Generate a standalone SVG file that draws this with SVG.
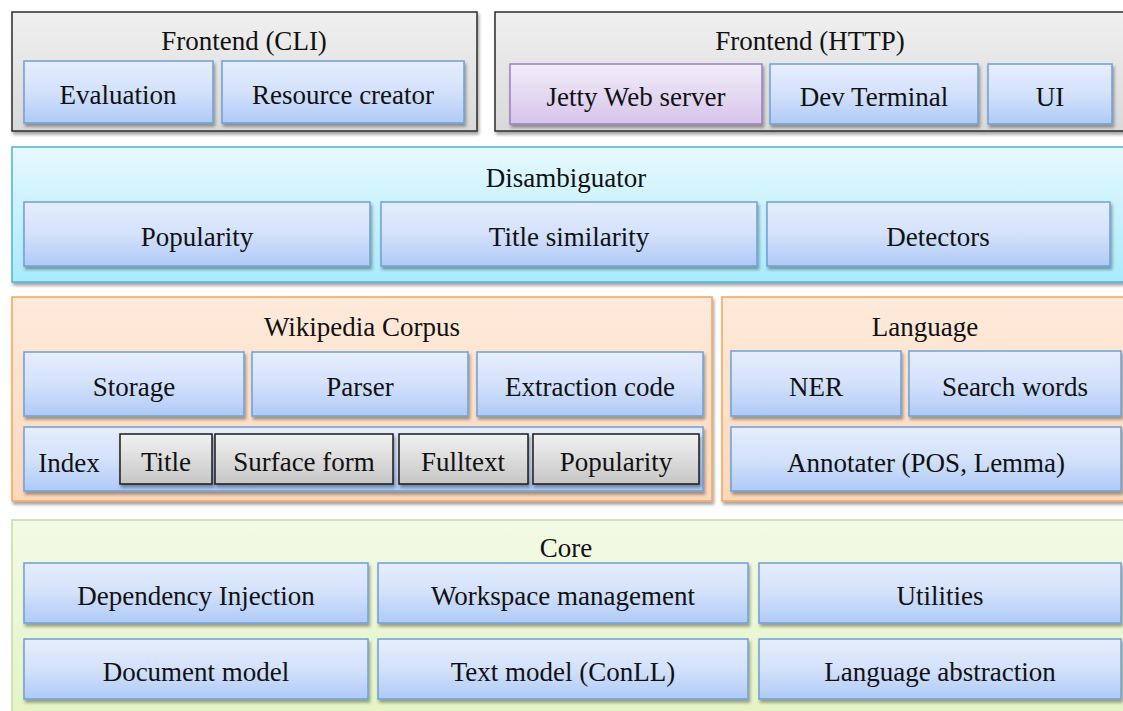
<svg xmlns="http://www.w3.org/2000/svg" width="1123" height="711" viewBox="0 0 1123 711">
<defs>
<linearGradient id="gBlue" x1="0" y1="0" x2="0" y2="1"><stop offset="0" stop-color="#e6eefd"/><stop offset="0.5" stop-color="#d3e1fb"/><stop offset="1" stop-color="#afcaf6"/></linearGradient>
<linearGradient id="gPurple" x1="0" y1="0" x2="0" y2="1"><stop offset="0" stop-color="#f2eefa"/><stop offset="1" stop-color="#d6c4e9"/></linearGradient>
<linearGradient id="gFront" x1="0" y1="0" x2="0" y2="1"><stop offset="0" stop-color="#f0f0f0"/><stop offset="1" stop-color="#d9d9d9"/></linearGradient>
<linearGradient id="gBtn" x1="0" y1="0" x2="0" y2="1"><stop offset="0" stop-color="#f2f2f2"/><stop offset="1" stop-color="#c6c6c6"/></linearGradient>
<linearGradient id="gCyan" x1="0" y1="0" x2="0" y2="1"><stop offset="0" stop-color="#e7f9fe"/><stop offset="1" stop-color="#a8ebfb"/></linearGradient>
<linearGradient id="gPeach" x1="0" y1="0" x2="0" y2="1"><stop offset="0" stop-color="#feeadb"/><stop offset="1" stop-color="#fcd8ba"/></linearGradient>
<linearGradient id="gGreen" x1="0" y1="0" x2="0" y2="1"><stop offset="0" stop-color="#f3fae6"/><stop offset="1" stop-color="#e3f4c4"/></linearGradient>
<filter id="sh" x="-5%" y="-10%" width="110%" height="125%"><feDropShadow dx="1.5" dy="3" stdDeviation="1.5" flood-color="#000" flood-opacity="0.35"/></filter>
</defs>
<style>
text{font-family:"Liberation Serif","Times New Roman",serif;font-size:27px;fill:#111;text-anchor:middle}
.blue{fill:url(#gBlue);stroke:#6f9fd6;stroke-width:1.5;filter:url(#sh)}
.purple{fill:url(#gPurple);stroke:#9a7ec2;stroke-width:1.5;filter:url(#sh)}
.front{fill:url(#gFront);stroke:#2b2b2b;stroke-width:1.5;filter:url(#sh)}
.btn{fill:url(#gBtn);stroke:#1a1a1a;stroke-width:1.5;filter:url(#sh)}
.cyan{fill:url(#gCyan);stroke:#4cb4cf;stroke-width:1.5;filter:url(#sh)}
.peach{fill:url(#gPeach);stroke:#f5a45e;stroke-width:1.5;filter:url(#sh)}
.green{fill:url(#gGreen);stroke:#c8d9a4;stroke-width:1.5}
</style>
<rect width="1123" height="711" fill="#fff"/>

<g id="frontend-cli">
<rect class="front" x="12" y="12" width="465" height="119"/>
<text x="244" y="50">Frontend (CLI)</text>
</g>
<g id="evaluation"><rect class="blue" x="24" y="61" width="189" height="62"/><text x="118" y="104">Evaluation</text></g>
<g id="resource-creator"><rect class="blue" x="222" y="61" width="242" height="62"/><text x="343" y="104">Resource creator</text></g>

<g id="frontend-http">
<rect class="front" x="495" y="12" width="640" height="119"/>
<text x="810" y="50">Frontend (HTTP)</text>
</g>
<g id="jetty"><rect class="purple" x="510" y="64" width="252" height="60"/><text x="636" y="106">Jetty Web server</text></g>
<g id="dev-terminal"><rect class="blue" x="770" y="64" width="208" height="60"/><text x="874" y="106">Dev Terminal</text></g>
<g id="ui"><rect class="blue" x="988" y="64" width="124" height="60"/><text x="1050" y="106">UI</text></g>

<g id="disambiguator">
<rect class="cyan" x="12" y="147" width="1130" height="135"/>
<text x="566" y="187">Disambiguator</text>
</g>
<g id="dis-popularity"><rect class="blue" x="24" y="202" width="346" height="64"/><text x="197" y="246">Popularity</text></g>
<g id="title-similarity"><rect class="blue" x="381" y="202" width="376" height="64"/><text x="569" y="246">Title similarity</text></g>
<g id="detectors"><rect class="blue" x="767" y="202" width="343" height="64"/><text x="938" y="246">Detectors</text></g>

<g id="wikipedia-corpus">
<rect class="peach" x="12" y="297" width="700" height="204"/>
<text x="362" y="336">Wikipedia Corpus</text>
</g>
<g id="storage"><rect class="blue" x="24" y="352" width="220" height="64"/><text x="134" y="396">Storage</text></g>
<g id="parser"><rect class="blue" x="252" y="352" width="216" height="64"/><text x="360" y="396">Parser</text></g>
<g id="extraction-code"><rect class="blue" x="477" y="352" width="226" height="64"/><text x="590" y="396">Extraction code</text></g>
<g id="index"><rect class="blue" x="24" y="427" width="679" height="64"/><text x="69" y="472">Index</text></g>
<g id="idx-title"><rect class="btn" x="120" y="434" width="92" height="50"/><text x="166" y="471">Title</text></g>
<g id="idx-surface"><rect class="btn" x="215" y="434" width="178" height="50"/><text x="304" y="471">Surface form</text></g>
<g id="idx-fulltext"><rect class="btn" x="399" y="434" width="129" height="50"/><text x="463" y="471">Fulltext</text></g>
<g id="idx-popularity"><rect class="btn" x="533" y="434" width="166" height="50"/><text x="616" y="471">Popularity</text></g>

<g id="language">
<rect class="peach" x="722" y="297" width="420" height="204"/>
<text x="925" y="336">Language</text>
</g>
<g id="ner"><rect class="blue" x="731" y="351" width="170" height="65"/><text x="816" y="396">NER</text></g>
<g id="search-words"><rect class="blue" x="909" y="351" width="212" height="65"/><text x="1015" y="396">Search words</text></g>
<g id="annotater"><rect class="blue" x="731" y="427" width="390" height="64"/><text x="926" y="472">Annotater (POS, Lemma)</text></g>

<g id="core">
<rect class="green" x="12" y="520" width="1130" height="200"/>
<text x="566" y="557">Core</text>
</g>
<g id="dependency-injection"><rect class="blue" x="24" y="563" width="344" height="60"/><text x="196" y="605">Dependency Injection</text></g>
<g id="workspace-management"><rect class="blue" x="378" y="563" width="370" height="60"/><text x="563" y="605">Workspace management</text></g>
<g id="utilities"><rect class="blue" x="759" y="563" width="362" height="60"/><text x="940" y="605">Utilities</text></g>
<g id="document-model"><rect class="blue" x="24" y="639" width="344" height="60"/><text x="196" y="681">Document model</text></g>
<g id="text-model"><rect class="blue" x="378" y="639" width="370" height="60"/><text x="563" y="681">Text model (ConLL)</text></g>
<g id="language-abstraction"><rect class="blue" x="759" y="639" width="362" height="60"/><text x="940" y="681">Language abstraction</text></g>

<g id="connectors"></g>
</svg>
